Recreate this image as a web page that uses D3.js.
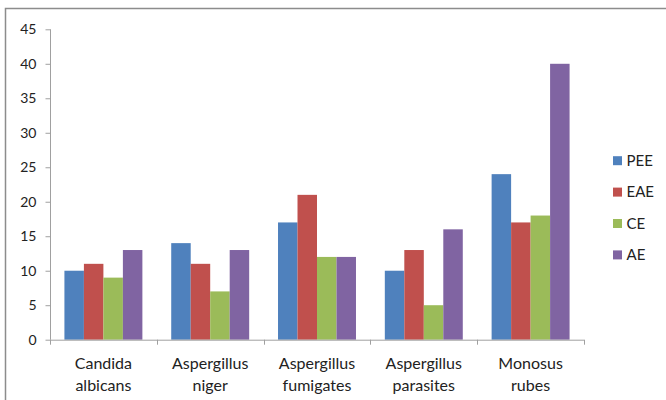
<!DOCTYPE html>
<html>
<head>
<meta charset="utf-8">
<script src="https://cdn.jsdelivr.net/npm/d3@7"></script>
<style>
  html, body { margin: 0; padding: 0; background: #fff; }
  svg { display: block; }
  text { font-family: Lato, "Open Sans", "Liberation Sans", sans-serif; fill: #222; }
</style>
</head>
<body>
<svg id="chart" width="666" height="400"></svg>
<script>
// Organisms tested (two-line labels) and the extract series
const categories = [
  ["Candida", "albicans"],
  ["Aspergillus", "niger"],
  ["Aspergillus", "fumigates"],
  ["Aspergillus", "parasites"],
  ["Monosus", "rubes"]
];
const seriesNames = ["PEE", "EAE", "CE", "AE"];
const PEE = [10, 14, 17, 10, 24];
const EAE = [11, 11, 21, 13, 17];
const CE  = [9, 7, 12, 5, 18];
const AE  = [13, 13, 12, 16, 40];
const yTicks = [0, 5, 10, 15, 20, 25, 30, 35, 40, 45];
const colors = ["#4F81BD", "#C0504D", "#9BBB59", "#8064A2"];

const seriesValues = [PEE, EAE, CE, AE];

const svg = d3.select("#chart");

// Outer chart frame (open on the right and bottom)
svg.append("path")
  .attr("d", "M5.5,400 L5.5,8.5 L666,8.5")
  .attr("fill", "none")
  .attr("stroke", "#8c8c8c")
  .attr("stroke-width", 1.5);

const plot = { left: 50, right: 584, top: 29.3, bottom: 339.7 };

const y = d3.scaleLinear().domain([0, 45]).range([plot.bottom, plot.top]);
const x0 = d3.scaleBand()
  .domain(d3.range(categories.length))
  .range([plot.left, plot.right])
  .paddingInner(0.27)
  .paddingOuter(0.135);
const x1 = d3.scaleBand()
  .domain(d3.range(seriesNames.length))
  .range([0, x0.bandwidth()]);

// Bars
const groups = svg.append("g").selectAll("g")
  .data(categories.map((c, i) => i))
  .join("g")
  .attr("transform", i => `translate(${x0(i)},0)`);

groups.selectAll("rect")
  .data(i => seriesValues.map((vals, s) => ({ s, v: vals[i] })))
  .join("rect")
  .attr("x", d => x1(d.s))
  .attr("width", x1.bandwidth())
  .attr("y", d => y(d.v))
  .attr("height", d => y(0) - y(d.v))
  .attr("fill", d => colors[d.s]);

// Y axis
const yAxis = svg.append("g")
  .attr("transform", `translate(${plot.left + 0.5},0)`)
  .call(d3.axisLeft(y).tickValues(yTicks).tickSize(5).tickPadding(9).tickFormat(d3.format("d")));
yAxis.select(".domain").attr("stroke", "#a0a0a0").attr("d", `M0,${plot.top}V${plot.bottom}`);
yAxis.selectAll(".tick line").attr("stroke", "#a0a0a0");
yAxis.selectAll(".tick text").attr("font-size", 14).style("font-family", "Lato, 'Open Sans', sans-serif").attr("fill", "#222");

// X axis with category boundary ticks
const xAxisG = svg.append("g");
xAxisG.append("line")
  .attr("x1", plot.left).attr("x2", plot.right)
  .attr("y1", y(0) + 0.5).attr("y2", y(0) + 0.5)
  .attr("stroke", "#a0a0a0");
const boundaries = d3.range(categories.length + 1).map(i => plot.left + i * x0.step());
xAxisG.selectAll("line.bt")
  .data(boundaries)
  .join("line")
  .attr("class", "bt")
  .attr("x1", d => Math.round(d) + 0.5).attr("x2", d => Math.round(d) + 0.5)
  .attr("y1", y(0)).attr("y2", y(0) + 5)
  .attr("stroke", "#a0a0a0");

const labels = xAxisG.selectAll("text.cat")
  .data(categories)
  .join("text")
  .attr("class", "cat")
  .attr("text-anchor", "middle")
  .attr("font-size", 16)
  .attr("x", (d, i) => x0(i) + x0.bandwidth() / 2)
  .attr("y", 368.5);
labels.selectAll("tspan")
  .data(d => d)
  .join("tspan")
  .attr("x", function() { return d3.select(this.parentNode).attr("x"); })
  .attr("dy", (d, i) => i === 0 ? 0 : 22)
  .text(d => d);

// Legend
const legend = svg.append("g").selectAll("g")
  .data(seriesNames)
  .join("g")
  .attr("transform", (d, i) => `translate(613,${160.7 + i * 31.4})`);
legend.append("rect")
  .attr("x", 0).attr("y", -4.5)
  .attr("width", 9).attr("height", 9)
  .attr("fill", (d, i) => colors[i]);
legend.append("text")
  .attr("x", 13.5).attr("y", 0)
  .attr("dy", "0.35em")
  .attr("font-size", 15)
  .text(d => d);
</script>
</body>
</html>
